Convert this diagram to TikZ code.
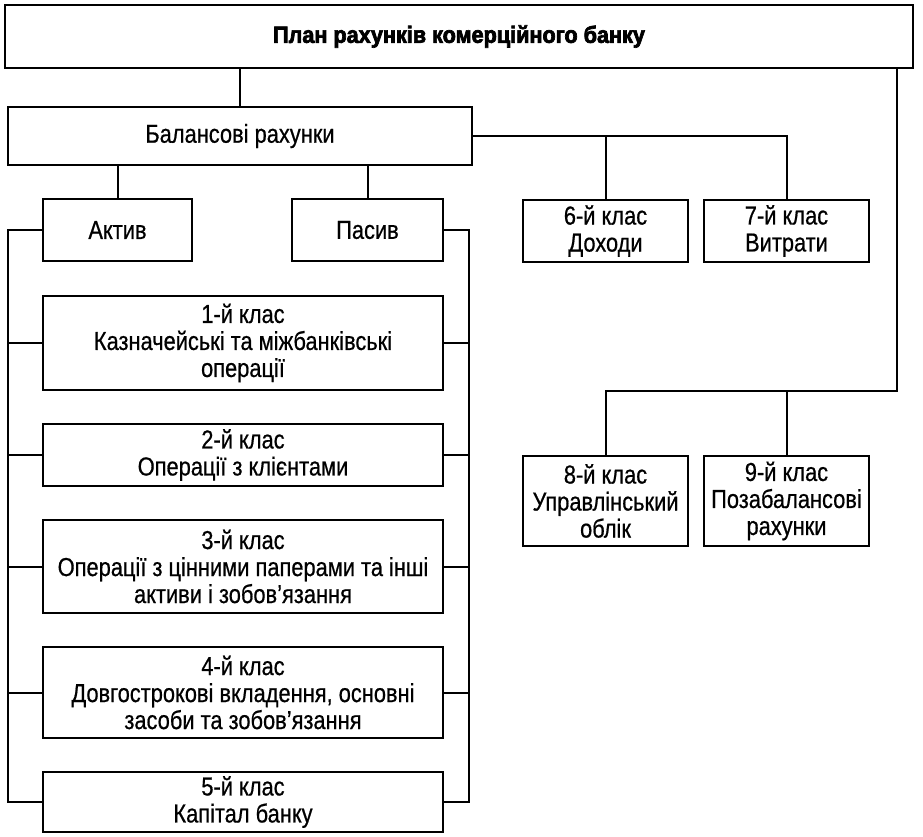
\documentclass[tikz,border=0pt]{standalone}
\usepackage{fontspec}
\setmainfont{Liberation Sans}[FakeStretch=0.84,FakeBold=0.6]
\newfontfamily\headfont{Liberation Sans}[FakeBold=3,FakeStretch=0.92]
\newcommand\apos{\char"0027\relax}
\usetikzlibrary{positioning}
\tikzset {
  % every box of the chart
  acct box/.style = {
    draw = black,
    line width = 2pt,
    align = center,
    inner sep = 0pt,
    font = \fontsize{26}{27}\selectfont
  },
  % title of the whole plan
  head box/.style = {
    acct box,
    minimum width = 908pt,
    minimum height = 63pt,
    font = \headfont\bfseries\fontsize{23.5}{26}\selectfont
  },
  % balance classes 1-5
  cls box/.style = {
    acct box,
    minimum width = 400pt
  },
  % classes 6-9
  side box/.style = {
    acct box,
    minimum width = 165pt,
    minimum height = 62pt
  },
  link/.style = {
    draw = black,
    line width = 2pt
  },
  node distance = 32pt
}
\begin{document}
\begin{tikzpicture}[x=1pt,y=-1pt]
    \useasboundingbox (0,0) rectangle (923,836);

    \node[head box] (plan) at (459,36.5) {План рахунків комерційного банку};
    \node[acct box, minimum width=464pt, minimum height=58pt] (bal) at (240,136) {Балансові рахунки};
    \node[acct box, minimum width=149pt, minimum height=62pt] (aktiv) at (117.5,230) {Актив};
    \node[acct box, minimum width=151pt, minimum height=62pt] (pasiv) at (367.5,230) {Пасив};

    \node[cls box, minimum height=94pt] (cls1) at (243,343) {1-й клас\\Казначейські та міжбанківські\\операції};
    \node[cls box, minimum height=62pt] (cls2) [below=of cls1] {2-й клас\\Операції з клієнтами};
    \node[cls box, minimum height=93pt] (cls3) [below=of cls2] {3-й клас\\Операції з цінними паперами та інші\\активи і зобов\apos язання};
    \node[cls box, minimum height=91pt] (cls4) [below=of cls3] {4-й клас\\Довгострокові вкладення, основні\\засоби та зобов\apos язання};
    \node[cls box, minimum height=60pt] (cls5) [below=of cls4] {5-й клас\\Капітал банку};

    \node[side box] (c6) at (605.5,231) {6-й клас\\Доходи};
    \node[side box] (c7) [right=14pt of c6] {7-й клас\\Витрати};
    \node[side box, minimum height=90pt] (c8) at (605.5,501) {8-й клас\\Управлінський\\облік};
    \node[side box, minimum height=90pt] (c9) [right=14pt of c8] {9-й клас\\Позабалансові\\рахунки};

    \coordinate (lbus) at (8,0);
    \coordinate (rbus) at (469,0);
    \coordinate (offb) at (897,391);

    \draw[link] (bal.north) -- (bal.north |- plan.south);
    \draw[link] (aktiv.north) -- (aktiv.north |- bal.south);
    \draw[link] (pasiv.north) -- (pasiv.north |- bal.south);

    \draw[link] (bal.east) -| (c7.north);
    \draw[link] (c6.north) -- (c6.north |- bal.east);

    \draw[link] (plan.south -| offb) -- (offb) -| (c8.north);
    \draw[link] (c9.north) -- (c9.north |- offb);

    \draw[link] (aktiv.west) -| (cls5.west -| lbus) -- (cls5.west);
    \draw[link] (pasiv.east) -| (cls5.east -| rbus) -- (cls5.east);
    \foreach \i in {1,...,4} {
      \draw[link] (cls\i.west) -- (cls\i.west -| lbus);
      \draw[link] (cls\i.east) -- (cls\i.east -| rbus);
    }
\end{tikzpicture}
\end{document}
